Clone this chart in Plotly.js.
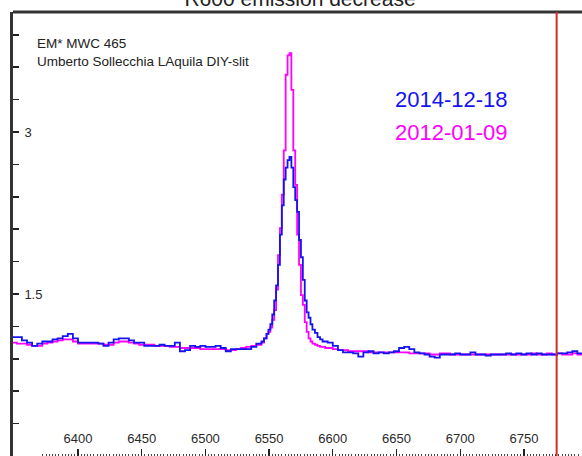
<!DOCTYPE html>
<html>
<head>
<meta charset="utf-8">
<script src="https://cdn.plot.ly/plotly-3.0.1.min.js"></script>
<style>html,body{margin:0;padding:0;background:#fff;}#chart{width:582px;height:456px;}</style>
</head>
<body>
<div id="chart"></div>
<script>
// Wavelength grid (Angstrom)
const wavelength = [
  6348,6352,6356,6360,6364,6368,6372,6376,6380,6384,6388,6392,6396,6400,6404,6408,6412,6416,6420,6424,
  6428,6432,6436,6440,6444,6448,6452,6456,6460,6464,6468,6472,6476,6480,6484,6488,6492,6496,6500,6504,
  6508,6512,6516,6520,6524,6528,6532,6536,6540,6544,
  6546,6548,6549.5,6551,6552.5,6554,6555.5,6557,6558.5,6560,6561.5,6563,6564.5,6566,6567.5,6569,6570.5,
  6572,6573.5,6575,6576.5,6578,6579.5,6581,6582.5,6584,6586,6588,6590,6592,6594,6596,6600,
  6604,6608,6612,6616,6620,6624,6628,6632,6636,6640,6644,6648,6652,6656,6660,6664,6668,6672,6676,6680,
  6684,6688,6692,6696,6700,6704,6708,6712,6716,6720,6724,6728,6732,6736,6740,6744,6748,6752,6756,6760,
  6764,6768,6772,6776,6780,6784,6788,6792,6796,6800
];
// Spectrum 2014-12-18 (blue)
const flux20141218 = [
  1.10,1.10,1.07,1.05,1.02,1.04,1.06,1.06,1.08,1.09,1.11,1.13,1.09,1.05,1.05,1.05,1.05,1.04,1.02,1.05,
  1.08,1.09,1.09,1.07,1.05,1.05,1.02,1.02,1.02,1.03,1.02,1.02,1.05,0.97,0.98,1.02,1.01,1.02,1.01,1.01,
  1.02,1.00,0.97,0.99,0.99,0.99,0.99,1.01,1.04,1.06,
  1.09,1.13,1.17,1.22,1.31,1.44,1.58,1.77,2.05,2.32,2.56,2.67,2.74,2.77,2.67,2.49,2.37,
  2.26,2.00,1.84,1.63,1.44,1.33,1.28,1.22,1.17,1.14,1.10,1.08,1.06,1.06,1.05,1.02,
  0.98,0.96,0.96,0.95,0.92,0.96,0.97,0.95,0.96,0.95,0.96,0.97,1.00,1.01,0.99,0.96,0.95,0.94,0.92,0.91,
  0.94,0.94,0.94,0.95,0.94,0.94,0.96,0.94,0.94,0.93,0.94,0.94,0.94,0.95,0.94,0.95,0.94,0.95,0.94,0.95,
  0.94,0.94,0.94,0.95,0.95,0.96,0.97,0.95,0.95,0.95
];
// Spectrum 2012-01-09 (magenta)
const flux20120109 = [
  1.05,1.04,1.04,1.03,1.02,1.02,1.04,1.05,1.06,1.07,1.08,1.08,1.06,1.04,1.04,1.04,1.04,1.04,1.03,1.03,
  1.05,1.06,1.06,1.05,1.04,1.03,1.03,1.03,1.02,1.02,1.02,1.01,1.01,1.00,1.00,1.00,1.00,0.99,0.99,0.99,
  0.99,0.99,0.98,0.98,0.99,1.00,1.01,1.02,1.03,1.05,
  1.09,1.13,1.15,1.19,1.26,1.35,1.54,1.86,2.11,2.42,2.83,3.53,3.71,3.73,3.39,2.83,2.51,
  2.05,1.77,1.49,1.40,1.24,1.15,1.09,1.06,1.04,1.03,1.02,1.01,1.01,1.00,1.00,0.99,
  0.98,0.98,0.97,0.97,0.97,0.97,0.96,0.96,0.96,0.96,0.96,0.96,0.96,0.96,0.95,0.95,0.95,0.95,0.94,0.94,
  0.95,0.95,0.94,0.94,0.94,0.94,0.94,0.94,0.94,0.94,0.94,0.94,0.94,0.94,0.94,0.94,0.94,0.94,0.95,0.94,
  0.94,0.95,0.94,0.95,0.94,0.94,0.95,0.94,0.94,0.94
];
const markerWavelength = [6775.7];
const xTickVals = [6400,6450,6500,6550,6600,6650,6700,6750];
const xTickText = ["6400","6450","6500","6550","6600","6650","6700","6750"];
const yTickVals = [0.3,0.6,0.9,1.2,1.5,1.8,2.1,2.4,2.7,3.0,3.3,3.6,3.9];
const yTickText = ["","","","","1.5","","","","","3","","",""];
const seriesNames = ["2014-12-18","2012-01-09"];
const titleText = "R600 emission decrease";
const noteLines = ["EM* MWC 465","Umberto Sollecchia LAquila DIY-slit"];

const traces = [
  {x: wavelength, y: flux20120109, type:'scatter', mode:'lines', line:{shape:'hv', color:'#ff00ff', width:1.8}, name: seriesNames[1], hoverinfo:'skip'},
  {x: wavelength, y: flux20141218, type:'scatter', mode:'lines', line:{shape:'hv', color:'#1414f0', width:1.8}, name: seriesNames[0], hoverinfo:'skip'}
];

const layout = {
  width: 582, height: 456,
  margin: {l: 13, r: 0, t: 12, b: 0, pad: 0},
  paper_bgcolor: '#ffffff', plot_bgcolor: '#ffffff',
  showlegend: false,
  font: {family: 'Arial, "Liberation Sans", sans-serif', color: '#222'},
  title: {text: titleText, font: {size: 21, color: '#222'}, x: 300/582, xref: 'container', xanchor: 'center', y: 1.014, yref: 'container', yanchor: 'bottom'},
  xaxis: {
    range: [6349, 6795.6], showgrid: false, zeroline: false, showline: false,
    tickmode: 'array', tickvals: xTickVals, ticktext: xTickText,
    ticks: 'inside', ticklen: 7, tickwidth: 1.2, tickcolor: '#222',
    ticklabelposition: 'inside', ticklabelstandoff: 3,
    tickfont: {size: 13, color: '#2a2a2a'},
    minor: {dtick: 2.5, ticks: 'inside', ticklen: 2, tickcolor: '#444', tickwidth: 1}
  },
  yaxis: {
    range: [0, 4.111], showgrid: false, zeroline: false,
    showline: true, linecolor: '#333', linewidth: 3,
    tickmode: 'array', tickvals: yTickVals, ticktext: yTickText,
    ticks: 'inside', ticklen: 6, tickwidth: 1.5, tickcolor: '#222',
    ticklabelposition: 'inside', ticklabelstandoff: 5,
    tickfont: {size: 13, color: '#2a2a2a'}
  },
  shapes: [
    {type: 'line', xref: 'paper', yref: 'paper', x0: 0, x1: 1, y0: 1, y1: 1, line: {color: '#333', width: 3}},
    {type: 'line', xref: 'x', yref: 'paper', x0: markerWavelength[0], x1: markerWavelength[0], y0: 0, y1: 1, line: {color: '#d42a2a', width: 2}}
  ],
  annotations: [
    {text: noteLines.join('<br>'), xref: 'paper', yref: 'paper', x: 0.0387, y: 0.9095, xanchor: 'left', yanchor: 'middle', align: 'left', showarrow: false, font: {size: 13.5, color: '#222'}},
    {text: seriesNames[0], xref: 'paper', yref: 'paper', x: 0.668, y: 0.804, xanchor: 'left', yanchor: 'middle', showarrow: false, font: {size: 22, color: '#1414f0'}},
    {text: seriesNames[1], xref: 'paper', yref: 'paper', x: 0.668, y: 0.7275, xanchor: 'left', yanchor: 'middle', showarrow: false, font: {size: 22, color: '#ff00ff'}}
  ]
};

Plotly.newPlot('chart', traces, layout, {displayModeBar: false, staticPlot: true});
</script>
</body>
</html>
